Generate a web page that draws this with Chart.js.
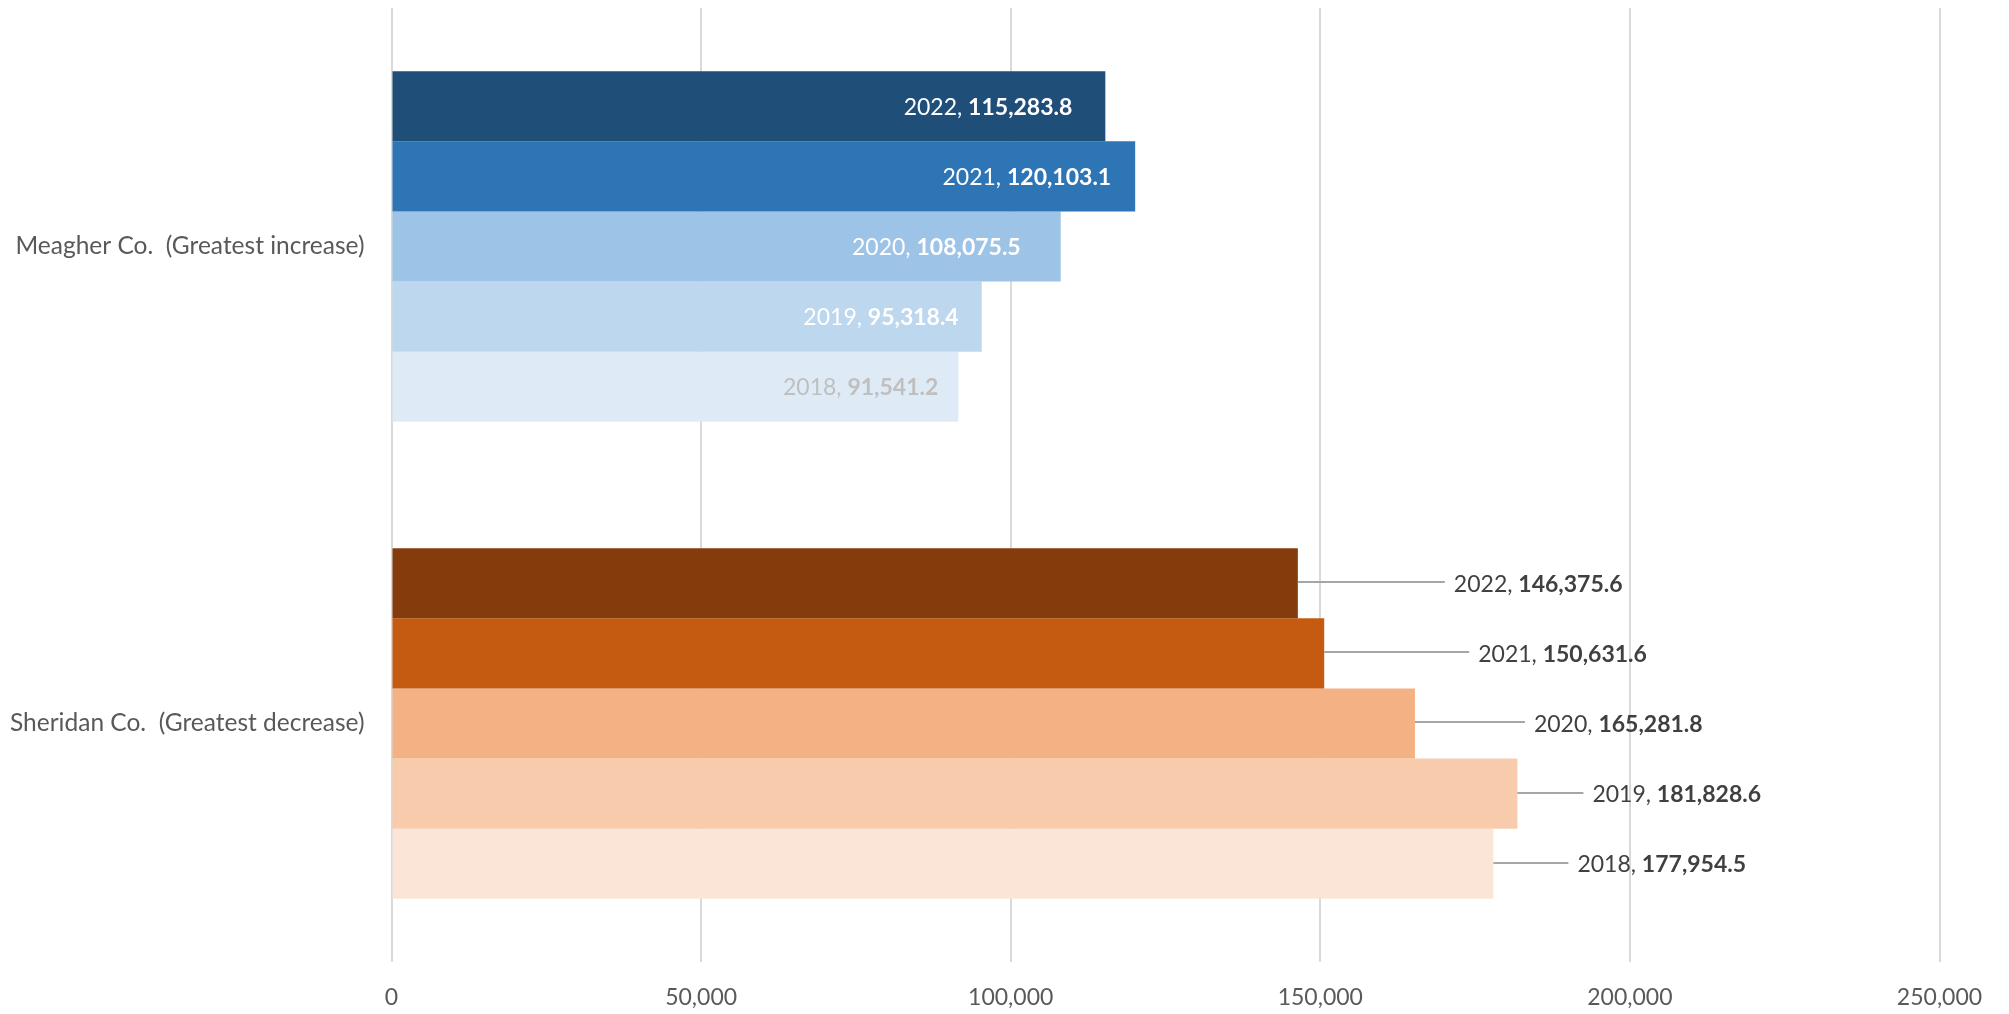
<!DOCTYPE html>
<html>
<head>
<meta charset="utf-8">
<script src="https://cdn.jsdelivr.net/npm/chart.js@4"></script>
<style>
  html, body { margin:0; padding:0; background:#fff; }
  #wrap { width:2009px; height:1014px; }
</style>
</head>
<body>
<div id="wrap"><canvas id="c" width="2009" height="1014"></canvas></div>
<script>
// ---- data ----
const categories = ['Meagher Co.  (Greatest increase)', 'Sheridan Co.  (Greatest decrease)'];
const years = ['2022', '2021', '2020', '2019', '2018'];
const values2022 = [115283.8, 146375.6];
const values2021 = [120103.1, 150631.6];
const values2020 = [108075.5, 165281.8];
const values2019 = [95318.4, 181828.6];
const values2018 = [91541.2, 177954.5];
const xTicks = [0, 50000, 100000, 150000, 200000, 250000];

// ---- styles ----
const blueColors = ['#1F4E79', '#2E75B6', '#9DC3E6', '#BDD7EE', '#DEEBF7'];
const orangeColors = ['#843C0C', '#C55A11', '#F4B183', '#F8CBAD', '#FBE5D6'];
const insideLabelColors = ['#FFFFFF', '#FFFFFF', '#FFFFFF', '#FFFFFF', '#BFBFBF'];
const insideInset = [33, 24, 40, 23, 20];
const outsideOffset = [156, 154, 119, 75, 84];
const FONT = 'Lato, "Open Sans", sans-serif';

const seriesValues = [values2022, values2021, values2020, values2019, values2018];

const fmt = v => v.toLocaleString('en-US', {minimumFractionDigits:1, maximumFractionDigits:1});

const datasets = years.map((y, i) => ({
  label: y,
  data: seriesValues[i],
  backgroundColor: [blueColors[i], orangeColors[i]],
  borderWidth: 0,
  barPercentage: 1.0,
  categoryPercentage: 0.735
}));

const labelPlugin = {
  id: 'valueLabels',
  afterDatasetsDraw(chart) {
    const ctx = chart.ctx;
    const size = 23;
    const normal = `400 ${size}px ${FONT}`;
    const bold = `700 ${size}px ${FONT}`;
    ctx.save();
    ctx.textBaseline = 'alphabetic';
    ctx.textAlign = 'left';
    chart.data.datasets.forEach((ds, i) => {
      const meta = chart.getDatasetMeta(i);
      meta.data.forEach((bar, j) => {
        const pre = ds.label + ', ';
        const val = fmt(ds.data[j]);
        ctx.font = normal;
        const w1 = ctx.measureText(pre).width;
        ctx.font = bold;
        const w2 = ctx.measureText(val).width;
        const baseY = bar.y + size * 0.36;
        let x, color;
        if (j === 0) {
          x = bar.x - insideInset[i] - (w1 + w2);
          color = insideLabelColors[i];
        } else {
          x = bar.x + outsideOffset[i];
          color = '#404040';
          ctx.strokeStyle = '#A6A6A6';
          ctx.lineWidth = 2;
          ctx.beginPath();
          ctx.moveTo(bar.x, Math.round(bar.y) - 1);
          ctx.lineTo(x - 9, Math.round(bar.y) - 1);
          ctx.stroke();
        }
        ctx.fillStyle = color;
        ctx.font = normal;
        ctx.fillText(pre, x, baseY);
        ctx.font = bold;
        ctx.fillText(val, x + w1, baseY);
      });
    });
    ctx.restore();
  }
};

new Chart(document.getElementById('c'), {
  type: 'bar',
  data: { labels: categories, datasets },
  options: {
    indexAxis: 'y',
    responsive: false,
    devicePixelRatio: 1,
    animation: false,
    events: [],
    layout: { padding: { top: 8, right: 69.5, left: 0, bottom: 0 } },
    plugins: { legend: { display: false }, tooltip: { enabled: false } },
    scales: {
      x: {
        min: 0, max: 250000,
        afterBuildTicks: s => { s.ticks = xTicks.map(v => ({ value: v })); },
        afterFit: s => { s.height = 52; s.paddingLeft = 0; s.paddingRight = 0; },
        grid: { color: '#D9D9D9', lineWidth: 2, drawTicks: false },
        border: { display: false },
        ticks: {
          padding: 22,
          color: '#595959',
          font: { family: FONT, size: 23 },
          callback: v => Number(v).toLocaleString('en-US')
        }
      },
      y: {
        afterFit: s => { s.width = 391.5; s.paddingTop = 0; s.paddingBottom = 0; },
        grid: { display: false, drawTicks: false },
        border: { display: false },
        ticks: {
          padding: 27,
          color: '#595959',
          font: { family: FONT, size: 24.5 }
        }
      }
    }
  },
  plugins: [labelPlugin]
});
</script>
</body>
</html>
